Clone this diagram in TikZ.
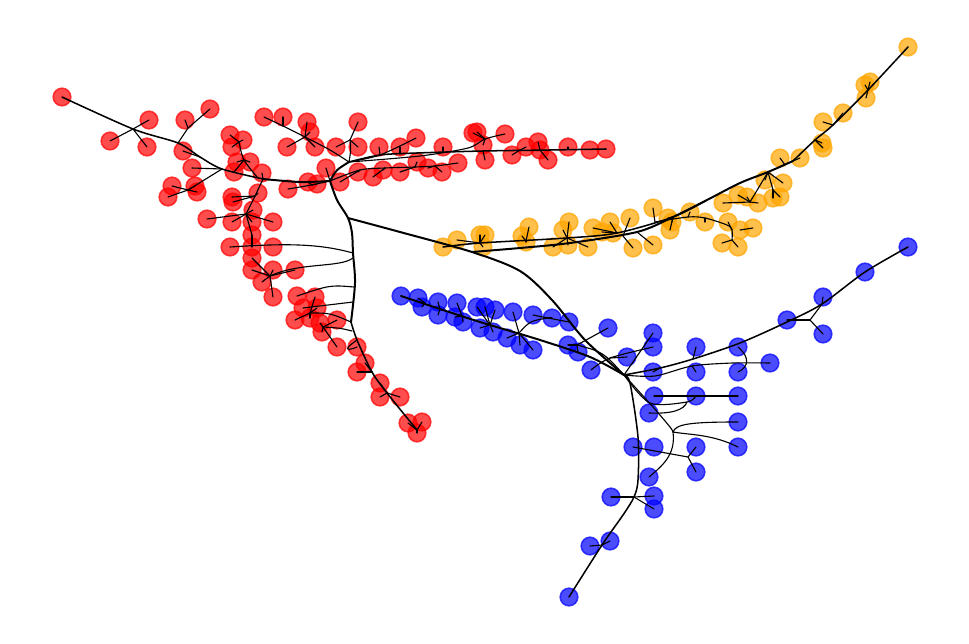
\documentclass[tikz,border=0pt]{standalone}
\definecolor{mplorange}{HTML}{FFA500}
\begin{document}
\begin{tikzpicture}[x=0.03cm,y=-0.03cm]
\tikzset{
 nd/.style={circle, inner sep=0pt, minimum size=0.53cm, line width=1.3pt, fill opacity=0.7, draw opacity=0.7},
 rnode/.style={nd, fill=red, draw=red},
 onode/.style={nd, fill=mplorange, draw=mplorange},
 bnode/.style={nd, fill=blue, draw=blue},
 ed/.style={line width=0.95pt, black, line cap=round, line join=round},
 med/.style={ed, line width=1.3pt},
 trunk/.style={ed, line width=1.7pt},
}
\useasboundingbox (0,0) rectangle (969,644);
% ---------------- red nodes
\foreach \n/\x/\y in {r1/62/97, r2/149/120, r3/110/141, r4/147/147, r5/185/120, r6/210/109, r7/183/151, r8/192/168,
 r9/230/135, r10/232/147, r11/243/140, r12/237/162, r13/250/162, r14/262/173, r97/234/172,
 r15/172/186, r16/168/197, r17/195/186, r18/197/192, r19/258/193, r20/232/197, r21/233/202, r22/253/210,
 r23/207/219, r24/232/222, r25/252/222, r26/273/222, r27/252/235, r28/230/247, r29/252/247, r30/273/247,
 r31/252/258, r32/252/270, r33/273/270, r34/295/270, r35/262/282, r36/273/297, r37/297/296, r38/315/297,
 r39/303/308, r40/317/308, r41/295/320, r42/310/318, r43/320/323, r44/337/320, r45/322/332, r46/337/347,
 r47/357/347, r48/365/363, r49/357/372, r50/380/383, r51/380/397, r52/400/397, r53/408/423, r54/422/422, r55/417/433,
 r56/264/117, r57/283/117, r58/307/122, r59/310/132, r60/287/147, r61/315/147, r62/336/147, r63/358/122,
 r64/358/147, r65/379/147, r66/400/147, r67/416/138, r68/326/168, r69/308/182, r70/317/184, r71/288/189,
 r72/340/182, r73/358/172, r74/373/177, r75/383/170, r76/400/172, r77/417/162, r78/428/168, r79/442/172,
 r80/443/147, r81/458/163, r82/473/133, r83/477/132, r84/483/145, r85/485/160, r86/505/134, r87/512/155,
 r88/526/147, r89/538/142, r90/540/150, r91/548/160, r92/568/147, r93/590/150, r94/606/149}
 \node[rnode] (\n) at (\x,\y) {};
% ---------------- orange nodes
\foreach \n/\x/\y in {o1/443/247, o2/457/240, o3/480/235, o4/485/235, o5/483/247, o6/522/236, o7/529/227, o8/526/242,
 o9/553/247, o10/563/230, o11/569/222, o12/568/245, o13/588/247, o14/593/228, o15/602/232, o16/610/222,
 o17/613/233, o18/630/218, o19/633/248, o20/653/208, o21/653/245, o22/668/218, o23/672/222, o24/670/230,
 o25/690/212, o26/705/222, o27/728/222, o28/740/230, o29/753/228, o30/722/243, o31/738/247, o32/723/203,
 o33/738/195, o34/747/197, o35/758/203, o36/765/180, o37/783/183, o38/780/197, o39/773/198, o40/780/158,
 o41/800/158, o42/822/143, o43/823/148, o44/823/122, o45/843/113, o46/865/85, o47/870/82, o48/866/98, o49/908/47}
 \node[onode] (\n) at (\x,\y) {};
% ---------------- blue nodes
\foreach \n/\x/\y in {b1/401/296, b2/418/298, b3/422/307, b4/438/302, b5/438/315, b6/457/303, b7/455/317, b8/463/322,
 b9/477/307, b10/485/307, b11/495/310, b12/480/328, b13/493/332, b14/507/338, b15/520/345, b16/533/350,
 b17/513/312, b18/533/315, b19/552/318, b20/569/322, b21/568/345, b22/578/352, b23/608/328, b24/591/370,
 b25/627/357, b26/653/333, b27/653/347, b28/653/372, b29/696/347, b30/696/372, b31/738/347, b32/738/372,
 b33/770/363, b34/787/320, b35/823/297, b36/823/334, b37/865/272, b38/908/247, b39/654/396, b40/696/396,
 b41/738/396, b42/649/413, b43/738/422, b44/738/447, b45/633/447, b46/654/447, b47/696/447, b48/696/472,
 b49/649/477, b50/611/497, b51/654/496, b52/654/509, b53/610/541, b54/590/546, b55/569/597}
 \node[bnode] (\n) at (\x,\y) {};
% ---------------- junctions
\foreach \n/\x/\y in {H/330/181, jA/133/129, jB/178/143, jB1/188/128, jC/200/157, jE/222/169, jF/188/190,
 jD/263/179, jG/258/178, jG1/244/160, jG2/239/142, jD1/255/196, jH/246/214,
 T1/348/218, T2/353/253, T2b/353/258, jI/270/276, T3/354/287, T3b/353/302, T4/351/322, jJ/310/313,
 T4b/352/331, jK/323/327, T5/357/340, T6/372/372, jL/387/393, jEnd/417/430,
 jN/349/162, jM/305/137, jM1/283/126, jN2/350/140, jP/483/151, jQ/485/139,
 jA1/380/155, jA2/400/154, jA3/443/152, jA4/520/150, jA5/540/150, jA6/568/149,
 k1/360/170, k2/385/168, k3/415/167, k4/435/166, k5/312/185,
 jO0/472/252, B0/624/375,
 ja/480/243, jb/526/241, jc/567/238, jd/617/233, je/623/236, je2/637/232, jf/655/222, jf2/673/217,
 jg0/732/230, jg/732/240, jg1/705/218, jg2/688/217, jh/750/202, ji/768/172, jj/773/190,
 jl1/785/165, jl2/793/161, jm/815/140, jn/833/125, jk/868/90,
 p1/425/303, p2/440/309, p3/462/316, p4/490/325, jp/519/333, jp3/548/318, jq/577/345, jr/610/358,
 q1/693/359, q2/692/366, q3/687/402, q4/660/368, js/810/320, jt/822/304, ju/673/432, jv/688/457,
 jw/634/497, jx/602/545}
 \coordinate (\n) at (\x,\y);
% ================= red edges
\draw[trunk] plot[smooth] coordinates {(H) (300,182) (jD)};
\draw[med] plot[smooth] coordinates {(jD) (jE) (jC) (jB) (jA) (r1.center)};
\draw[ed] plot[smooth] coordinates {(jG) (jG1) (jG2)};
\draw[ed] plot[smooth] coordinates {(jD) (jD1) (jH)};
\draw[ed] (jB) -- (jB1); \draw[ed] (jE) -- (jF);
\draw[ed] (r27.center) -- (r29.center);
\foreach \a/\b in {r2/jA, r3/jA, r4/jA, r5/jB1, r6/jB1, r7/jC, r8/jE, r15/jF, r16/jF, r17/jF, r18/jF,
 r9/jG2, r10/jG2, r11/jG2, r12/jG1, r13/jG1, r97/jG1, r14/jD, r19/jD1, r20/jD1, r21/jD1, r22/jH,
 r23/jH, r24/jH, r25/jH, r26/jH, r27/jH, r31/jI, r32/jI, r33/jI, r34/jI, r35/jI, r36/jI,
 r38/jJ, r40/jJ, r41/jJ, r42/jJ, r43/jK, r44/jK, r45/jK, r46/jK, r48/T6, r49/T6,
 r50/jL, r51/jL, r52/jL, r53/jEnd, r54/jEnd, r55/jEnd,
 r57/jM1, r58/jM, r59/jM, r60/jM, r61/jM, r62/jN2, r63/jN2, r64/jN2,
 r65/jA1, r66/jA2, r80/jA3, r87/jA4, r88/jA4, r89/jA5, r90/jA5, r91/jA5, r92/jA6,
 r82/jQ, r83/jQ, r84/jQ, r85/jP, r72/k1, r73/k1, r74/k2, r75/k2, r76/k3, r77/k3, r78/k4, r79/k4,
 r68/H, r69/k5, r70/k5}
 \draw[ed] (\a.center) -- (\b);
\draw[trunk] plot[smooth] coordinates {(H) (337,200) (T1) (352,233) (T2) (355,283) (T4)};
\draw[med] plot[smooth] coordinates {(T4) (T5) (T6) (jL) (jEnd)};
\draw[ed] (T2) .. controls (320,244) and (290,243) .. (r28.center);
\draw[ed] (T2b) .. controls (340,268) and (300,262) .. (jI);
\draw[ed] (T3) .. controls (330,285) .. (r37.center);
\draw[ed] (T3b) -- (r39.center);
\draw[ed] (T4) .. controls (330,313) .. (jJ);
\draw[ed] (T4b) .. controls (340,328) .. (jK);
\draw[ed] (T5) .. controls (340,352) and (350,350) .. (r47.center);
\draw[trunk] (H) .. controls (336,170) .. (jN);
\draw[ed] plot[smooth] coordinates {(jN) (330,150) (jM) (jM1) (r56.center)};
\draw[ed] (jN) .. controls (351,150) .. (jN2);
\draw[med] plot[smooth] coordinates {(jN) (jA1) (417,153) (jP) (550,150) (r94.center)};
\draw[ed] plot[smooth] coordinates {(jN) (420,156) (468,148) (jQ) (r86.center)};
\draw[ed] plot[smooth] coordinates {(jN) (jA1) (r67.center)};
\draw[ed] plot[smooth] coordinates {(H) (k1) (k2) (k3) (k4) (r81.center)};
\draw[ed] (r71.center) .. controls (k5) .. (H);
% ================= connector red -> blue
\draw[trunk] plot[smooth, tension=0.5] coordinates {(T1) (400,232) (jO0) (520,271) (552,300) (585,340) (B0)};
% ================= orange edges
\draw[trunk] plot[smooth] coordinates {(jO0) (520,248) (570,243) (je2) (jf2) (707,200) (740,183) (ji) (jl2)};
\draw[med] plot[smooth] coordinates {(jl2) (jm) (jn) (jk) (o49.center)};
\draw[med] plot[smooth] coordinates {(o1.center) (ja) (jc) (jd) (jf2) (707,200)};
\draw[ed] plot[smooth] coordinates {(jf) (jg2) (jg1) (727,225) (jg0) (jg)};
\draw[ed] (jh) -- (ji); \draw[ed] (ji) -- (jj);
\draw[ed] (o28.center) -- (o29.center);
\foreach \a/\b in {o2/ja, o3/ja, o4/ja, o5/ja, o6/jb, o7/jb, o8/jb, o9/jc, o10/jc, o11/jc, o12/jc, o13/jc,
 o14/jd, o15/jd, o16/jd, o17/jd, o18/je, o19/je, o20/jf, o21/je2, o22/jf2, o23/jf2, o24/jf2,
 o25/jg2, o26/jg1, o27/jg0, o30/jg, o31/jg, o32/jh, o33/jh, o34/jh, o35/jh,
 o36/ji, o37/ji, o38/jj, o39/jj, o40/jl1, o41/jl2, o42/jm, o43/jm, o44/jn, o45/jn,
 o46/jk, o47/jk, o48/jk}
 \draw[ed] (\a.center) -- (\b);
% ================= blue edges
\draw[trunk] plot[smooth] coordinates {(b1.center) (p2) (480,322) (540,340) (590,357) (B0)};
\foreach \a/\b in {b2/p1, b3/p1, b4/p2, b5/p2, b6/p3, b7/p3, b8/p3, b9/p4, b10/p4, b11/p4, b12/p4, b13/p4,
 b17/jp, b14/jp, b15/jp, b16/jp, b19/jp3, b23/jq, b21/jq, b22/jq, b25/jr, b26/B0, b29/q1, b30/q2, b28/q4,
 b34/js, b36/js, b35/jt, b45/jv, b47/jv, b48/jv, b50/jw, b51/jw, b52/jw, b53/jx, b54/jx}
 \draw[ed] (\a.center) -- (\b);
\draw[ed] (jp) .. controls (530,321) .. (jp3);
\draw[ed] (b18.center) -- (jp3) -- (b20.center);
\draw[ed] (jq) .. controls (603,352) .. (B0);
\draw[ed] plot[smooth] coordinates {(b24.center) (jr) (b27.center)};
\draw[med] plot[smooth] coordinates {(B0) (q4) (q1) (740,343) (787,322) (jt) (b37.center) (b38.center)};
\draw[ed] plot[smooth] coordinates {(B0) (655,376) (q2) (733,363) (b33.center)};
\draw[ed] (b31.center) .. controls (750,357) and (749,367) .. (b32.center);
\draw[ed] (js) -- (jt);
\draw[ed] plot[smooth] coordinates {(B0) (650,403) (q3) (b40.center)};
\draw[ed] (b39.center) -- (b41.center);
\draw[ed] (b42.center) .. controls (672,414) and (684,410) .. (q3);
\draw[ed] plot[smooth] coordinates {(B0) (653,407) (670,427) (ju)};
\draw[ed] (ju) .. controls (676,424) and (690,422) .. (b43.center);
\draw[ed] (ju) .. controls (690,435) and (712,434) .. (b44.center);
\draw[ed] (ju) .. controls (676,455) and (662,466) .. (b49.center);
\draw[med] plot[smooth] coordinates {(B0) (630,383) (638,437) (638,480) (jw) (623,515) (jx) (b55.center)};
\end{tikzpicture}
\end{document}
